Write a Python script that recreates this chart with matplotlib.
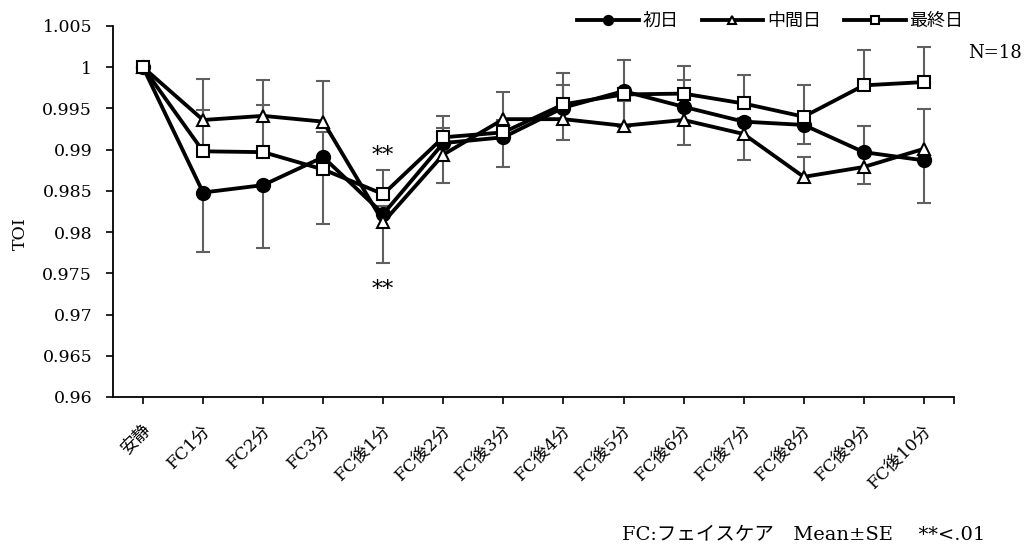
import numpy as np
import matplotlib.pyplot as plt
from matplotlib.transforms import ScaledTranslation

plt.rcParams['font.family'] = ['DejaVu Serif', 'Noto Sans CJK JP']

# time points
categories = ['安静', 'FC1分', 'FC2分', 'FC3分', 'FC後1分', 'FC後2分', 'FC後3分',
              'FC後4分', 'FC後5分', 'FC後6分', 'FC後7分', 'FC後8分', 'FC後9分', 'FC後10分']

# TOI (relative to rest), mean and SE per day
day1_mean = [1.0, 0.9848, 0.9857, 0.9891, 0.9822, 0.9908, 0.9915,
             0.9951, 0.9971, 0.9952, 0.9934, 0.9930, 0.9897, 0.9887]
day1_se = [0, 0.0072, 0.0076, 0.0081, 0.0060, 0.0049, 0.0036,
           0.0039, 0.0044, 0.0046, 0.0047, 0.0023, 0.0039, 0.0052]

mid_mean = [1.0, 0.9936, 0.9941, 0.9934, 0.9812, 0.9894, 0.9937,
            0.9937, 0.9929, 0.9936, 0.9919, 0.9867, 0.9879, 0.9901]
mid_se = [0, 0.0050, 0.0043, 0.0049, 0.0020, 0.0032, 0.0033,
          0.0042, 0.0030, 0.0048, 0.0020, 0.0024, 0.0050, 0.0048]

last_mean = [1.0, 0.9898, 0.9897, 0.9876, 0.9846, 0.9915, 0.9921,
             0.9955, 0.9967, 0.9968, 0.9956, 0.9940, 0.9978, 0.9982]
last_se = [0, 0.0050, 0.0057, 0.0045, 0.0029, 0.0026, 0.0015,
           0.0038, 0.0042, 0.0033, 0.0035, 0.0039, 0.0043, 0.0042]

ytick_labels = ['0.96', '0.965', '0.97', '0.975', '0.98', '0.985',
                '0.99', '0.995', '1', '1.005']

x = np.arange(len(categories))

fig = plt.figure(figsize=(10.28, 5.52), dpi=100)
ax = fig.add_axes([0.1099, 0.2808, 0.818, 0.6721])

# (label, mean, se, marker, face colour, marker size, error direction)
series = [
    ('初日', day1_mean, day1_se, 'o', 'black', 9.5, -1),
    ('中間日', mid_mean, mid_se, '^', 'white', 9.0, 1),
    ('最終日', last_mean, last_se, 's', 'white', 8.5, 1),
]

# one-sided error bars, drawn underneath the lines
for label, mean, se, marker, face, ms, side in series:
    m = np.array(mean)
    s = np.array(se)
    end = m + side * s
    has = s > 0
    ax.vlines(x[has], m[has], end[has], color='#5f5f5f', lw=1.5, zorder=1)
    ax.plot(x[has], end[has], ls='none', marker='_', ms=10, mew=1.5,
            color='#5f5f5f', zorder=1)

for i, (label, mean, se, marker, face, ms, side) in enumerate(series):
    ax.plot(x, mean, color='black', lw=2.75, marker=marker, ms=ms,
            mfc=face, mec='black', mew=1.5, label=label, zorder=3 + i)

# significance marks at FC後1分
ax.text(4, 0.9885, '**', ha='center', va='baseline', fontsize=16)
ax.text(4, 0.9722, '**', ha='center', va='baseline', fontsize=16)

ax.set_xlim(-0.5, 13.5)
ax.set_ylim(0.96, 1.005)
ax.set_yticks([float(t) for t in ytick_labels], ytick_labels)
ax.set_xticks(list(x) + [13.5], categories + [''])
ax.tick_params(axis='y', direction='out', length=5, width=1.2, labelsize=12.5, pad=10)
ax.tick_params(axis='x', direction='out', length=5, width=1.2, labelsize=12.5, pad=17)
shift = ScaledTranslation(5 / 100, 0, fig.dpi_scale_trans)
for lbl in ax.get_xticklabels():
    lbl.set_rotation(45)
    lbl.set_ha('right')
    lbl.set_va('center')
    lbl.set_rotation_mode('anchor')
    lbl.set_transform(lbl.get_transform() + shift)

for side in ['top', 'right']:
    ax.spines[side].set_visible(False)
for side in ['left', 'bottom']:
    ax.spines[side].set_linewidth(1.3)

ax.set_ylabel('TOI', fontsize=12.5)
ax.yaxis.set_label_coords(-0.1, 0.44)

ax.legend(loc='upper right', bbox_to_anchor=(0.937, 0.978),
          bbox_transform=fig.transFigure, ncol=3, frameon=False,
          handlelength=3.4, handletextpad=0.2, columnspacing=1.3,
          markerscale=0.7, borderpad=0, borderaxespad=0,
          prop={'family': 'Noto Sans CJK JP', 'size': 13})

fig.text(0.9416, 0.904, 'N=18', ha='left', va='center', fontsize=13)
fig.text(0.958, 0.031, 'FC:フェイスケア　Mean±SE　 **<.01',
         ha='right', va='center', fontsize=14)

fig.savefig('out.png', dpi=100)
